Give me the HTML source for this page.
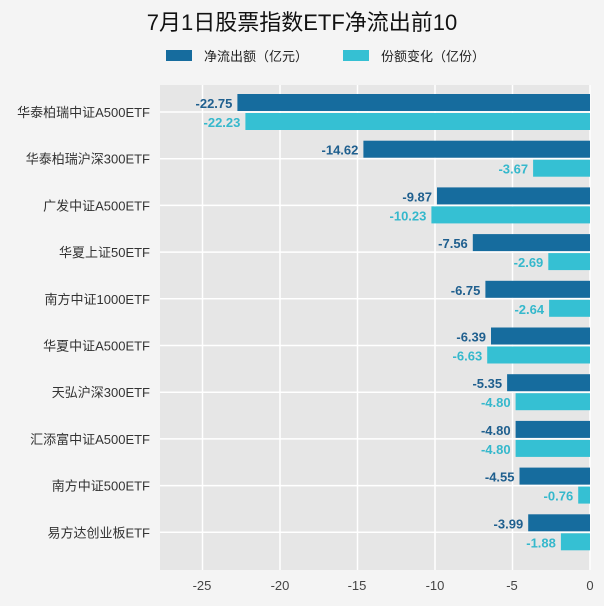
<!DOCTYPE html><html><head><meta charset="utf-8"><style>body{margin:0;background:#f4f4f4}svg{display:block}text{font-family:"Liberation Sans","Noto Sans CJK SC",sans-serif}</style></head><body>
<svg width="604" height="606" viewBox="0 0 604 606" xmlns="http://www.w3.org/2000/svg">
<rect width="604" height="606" fill="#f4f4f4"/>
<text x="302" y="30" font-size="22" text-anchor="middle" fill="#111">7月1日股票指数ETF净流出前10</text>
<rect x="166" y="50" width="26" height="11" fill="#166c9e"/><text x="204" y="61" font-size="13" fill="#222">净流出额（亿元）</text>
<rect x="343" y="50" width="26" height="11" fill="#35c0d3"/><text x="381" y="61" font-size="13" fill="#222">份额变化（亿份）</text>
<rect x="160" y="85" width="430" height="485" fill="#e6e6e6"/>
<g stroke="#fff" stroke-width="1.5">
<line x1="202.5" y1="85" x2="202.5" y2="570"/><line x1="280" y1="85" x2="280" y2="570"/><line x1="357.5" y1="85" x2="357.5" y2="570"/><line x1="435" y1="85" x2="435" y2="570"/><line x1="512.5" y1="85" x2="512.5" y2="570"/><line x1="590" y1="85" x2="590" y2="570"/>
<line x1="160" y1="112" x2="590" y2="112"/><line x1="160" y1="158.7" x2="590" y2="158.7"/><line x1="160" y1="205.4" x2="590" y2="205.4"/><line x1="160" y1="252.1" x2="590" y2="252.1"/><line x1="160" y1="298.8" x2="590" y2="298.8"/><line x1="160" y1="345.5" x2="590" y2="345.5"/><line x1="160" y1="392.2" x2="590" y2="392.2"/><line x1="160" y1="438.9" x2="590" y2="438.9"/><line x1="160" y1="485.6" x2="590" y2="485.6"/><line x1="160" y1="532.3" x2="590" y2="532.3"/>
</g>
<g font-size="13" fill="#333" text-anchor="end">
<text x="150" y="117">华泰柏瑞中证A500ETF</text><text x="150" y="163.7">华泰柏瑞沪深300ETF</text><text x="150" y="210.4">广发中证A500ETF</text><text x="150" y="257.1">华夏上证50ETF</text><text x="150" y="303.8">南方中证1000ETF</text><text x="150" y="350.5">华夏中证A500ETF</text><text x="150" y="397.2">天弘沪深300ETF</text><text x="150" y="443.9">汇添富中证A500ETF</text><text x="150" y="490.6">南方中证500ETF</text><text x="150" y="537.3">易方达创业板ETF</text>
</g>
<g fill="#166c9e">
<rect x="237.4" y="94" width="352.6" height="17"/><rect x="363.4" y="140.7" width="226.6" height="17"/><rect x="437" y="187.4" width="153" height="17"/><rect x="472.8" y="234.1" width="117.2" height="17"/><rect x="485.4" y="280.8" width="104.6" height="17"/><rect x="491" y="327.5" width="99" height="17"/><rect x="507.1" y="374.2" width="82.9" height="17"/><rect x="515.6" y="420.9" width="74.4" height="17"/><rect x="519.5" y="467.6" width="70.5" height="17"/><rect x="528.2" y="514.3" width="61.8" height="17"/>
</g>
<g fill="#35c0d3">
<rect x="245.4" y="113" width="344.6" height="17"/><rect x="533.1" y="159.7" width="56.9" height="17"/><rect x="431.4" y="206.4" width="158.6" height="17"/><rect x="548.3" y="253.1" width="41.7" height="17"/><rect x="549.1" y="299.8" width="40.9" height="17"/><rect x="487.2" y="346.5" width="102.8" height="17"/><rect x="515.6" y="393.2" width="74.4" height="17"/><rect x="515.6" y="439.9" width="74.4" height="17"/><rect x="578.2" y="486.6" width="11.8" height="17"/><rect x="560.9" y="533.3" width="29.1" height="17"/>
</g>
<g font-size="13" font-weight="bold" fill="#1f5f8e" text-anchor="end">
<text x="232.4" y="108">-22.75</text><text x="358.4" y="154.7">-14.62</text><text x="432" y="201.4">-9.87</text><text x="467.8" y="248.1">-7.56</text><text x="480.4" y="294.8">-6.75</text><text x="486" y="341.5">-6.39</text><text x="502.1" y="388.2">-5.35</text><text x="510.6" y="434.9">-4.80</text><text x="514.5" y="481.6">-4.55</text><text x="523.2" y="528.3">-3.99</text>
</g>
<g font-size="13" font-weight="bold" fill="#35b8cc" text-anchor="end">
<text x="240.4" y="127">-22.23</text><text x="528.1" y="173.7">-3.67</text><text x="426.4" y="220.4">-10.23</text><text x="543.3" y="267.1">-2.69</text><text x="544.1" y="313.8">-2.64</text><text x="482.2" y="360.5">-6.63</text><text x="510.6" y="407.2">-4.80</text><text x="510.6" y="453.9">-4.80</text><text x="573.2" y="500.6">-0.76</text><text x="555.9" y="547.3">-1.88</text>
</g>
<g font-size="13" fill="#444" text-anchor="middle">
<text x="202" y="590">-25</text><text x="280" y="590">-20</text><text x="357" y="590">-15</text><text x="435" y="590">-10</text><text x="512" y="590">-5</text><text x="590" y="590">0</text>
</g>
</svg></body></html>
